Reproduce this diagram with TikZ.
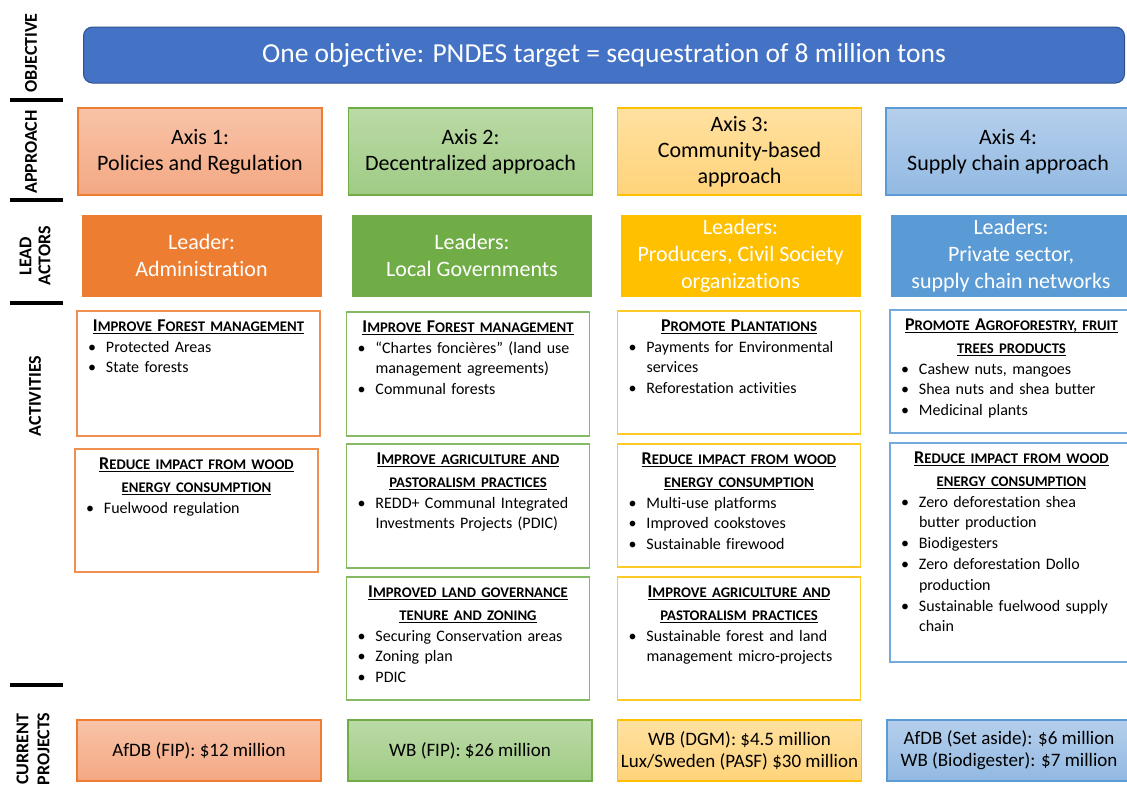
\documentclass[tikz,border=0pt]{standalone}
\usepackage{fontspec}
\setmainfont{Carlito}[Ligatures=NoCommon]
\usetikzlibrary{positioning}

\definecolor{orgdark}{HTML}{ED7D31}
\definecolor{orgtop}{HTML}{F8C3A8}
\definecolor{orgbot}{HTML}{F4A883}
\definecolor{grndark}{HTML}{70AD47}
\definecolor{grntop}{HTML}{BBDAA6}
\definecolor{grnbot}{HTML}{9FCB85}
\definecolor{yeldark}{HTML}{FFC000}
\definecolor{yeltop}{HTML}{FFE1A0}
\definecolor{yelbot}{HTML}{FFD37A}
\definecolor{bludark}{HTML}{5B9BD5}
\definecolor{blutop}{HTML}{B5CFEC}
\definecolor{blubot}{HTML}{92B9E2}
\definecolor{objfill}{HTML}{4472C4}
\definecolor{objline}{HTML}{2F528F}

\newsavebox{\ulnbox}
\newcommand{\uln}[1]{\leavevmode\sbox{\ulnbox}{#1}\rlap{\rule[-3pt]{\wd\ulnbox}{1.2pt}}\usebox{\ulnbox}}
\newcommand{\bigc}[1]{{\fontsize{18}{20}\selectfont #1}}
\newcommand{\head}[1]{{\centering\fontsize{14.7}{23}\selectfont\bfseries #1\par}}
\newcommand{\itm}[1]{\par\hangindent=18pt\hangafter=1\noindent\makebox[18pt][l]{\textbullet}#1\par}

\tikzset{
  lbl/.style={rotate=90, align=center, inner sep=0pt, font=\bfseries\fontsize{18}{19}\selectfont},
  sepline/.style={line width=4pt},
  objbox/.style={draw=objline, fill=objfill, line width=1pt, rounded corners=9pt,
    minimum width=1041pt, minimum height=56pt, text=white, font=\fontsize{27.5}{30}\selectfont},
  axisbox/.style={draw=#1dark, line width=1.1pt, top color=#1top, bottom color=#1bot,
    minimum width=244pt, minimum height=87pt, inner sep=0pt, align=center,
    font=\fontsize{22}{26}\selectfont},
  leadbox/.style={fill=#1dark, draw=white, line width=0.6pt, text=white,
    minimum width=241pt, minimum height=83pt, inner sep=0pt, align=center,
    font=\fontsize{22}{27}\selectfont},
  actbox/.style={draw=#1dark!85, line width=1.3pt, fill=white, minimum width=243pt},
  acttext/.style={text width=221pt, align=left, inner sep=0pt,
    font=\fontsize{16}{20.8}\selectfont},
  projbox/.style={draw=#1dark, line width=1.1pt, top color=#1top, bottom color=#1bot,
    minimum width=244pt, minimum height=61pt, inner sep=0pt, align=center,
    font=\fontsize{19}{22}\selectfont}
}

\begin{document}
\begin{tikzpicture}[x=1pt,y=-1pt]
\clip (0,0) rectangle (1127,788);
\fill[white] (0,0) rectangle (1127,788);

% row labels
\node[lbl] (lobj) at (31,53) {OBJECTIVE};
\node[lbl] (lapp) at (31,152) {APPROACH};
\node[lbl] (llead) at (35,256) {LEAD\\ACTORS};
\node[lbl] (lact) at (35,396) {ACTIVITIES};
\node[lbl, font=\bfseries\fontsize{18}{21}\selectfont] (lcur) at (33,749) {CURRENT\\PROJECTS};
\foreach \y in {100,200,303,685}
  \draw[sepline] (10,\y) -- (63,\y);

% objective
\node[objbox] (obj) at (604,55) {One objective: PNDES target = sequestration of 8 million tons};

% approach
\node[axisbox=org] (ax1) at (200,151.5) {Axis 1:\\Policies and Regulation};
\node[axisbox=grn] (ax2) at (470.5,151.5) {Axis 2:\\Decentralized approach};
\node[axisbox=yel] (ax3) at (739.5,151.5) {Axis 3:\\Community-based\\approach};
\node[axisbox=blu] (ax4) at (1008,151.5) {Axis 4:\\Supply chain approach};

% lead actors
\node[leadbox=org] (ld1) at (201.5,255.5) {Leader:\\Administration};
\node[leadbox=grn] (ld2) at (472,255.5) {Leaders:\\Local Governments};
\node[leadbox=yel] (ld3) at (740.5,255.5) {Leaders:\\Producers, Civil Society\\organizations};
\node[leadbox=blu] (ld4) at (1011,255.5) {Leaders:\\Private sector,\\supply chain networks};

% activities
\node[actbox=org, minimum height=125pt] (a11) at (198.5,373.5) {};
\node[actbox=org, minimum height=123pt] (a12) at (196.5,510.5) {};
\node[actbox=grn, minimum height=124pt] (a21) at (468,374) {};
\node[actbox=grn, minimum height=124pt] (a22) at (468,506) {};
\node[actbox=grn, minimum height=123pt] (a23) at (468,638.5) {};
\node[actbox=yel, minimum height=123pt] (a31) at (739,372.5) {};
\node[actbox=yel, minimum height=123pt] (a32) at (739,505.5) {};
\node[actbox=yel, minimum height=123pt] (a33) at (739,638.5) {};
\node[actbox=blu, minimum height=123pt] (a41) at (1011.5,371.5) {};
\node[actbox=blu, minimum height=219pt] (a42) at (1011.5,552.5) {};

\node[acttext, below=9pt of a11.north] (a11t) {%
  \head{\uln{\bigc{I}MPROVE \bigc{F}OREST MANAGEMENT}}
  \itm{Protected Areas}
  \itm{State forests}};
\node[acttext, below=9pt of a12.north] (a12t) {%
  \head{\uln{\bigc{R}EDUCE IMPACT FROM WOOD}\\\uln{ENERGY CONSUMPTION}}
  \itm{Fuelwood regulation}};
\node[acttext, below=9pt of a21.north] (a21t) {%
  \head{\uln{\bigc{I}MPROVE \bigc{F}OREST MANAGEMENT}}
  \itm{“Chartes foncières” (land use\newline management agreements)}
  \itm{Communal forests}};
\node[acttext, below=9pt of a22.north] (a22t) {%
  \head{\uln{\bigc{I}MPROVE AGRICULTURE AND}\\\uln{PASTORALISM PRACTICES}}
  \itm{REDD+ Communal Integrated\newline Investments Projects (PDIC)}};
\node[acttext, below=9pt of a23.north] (a23t) {%
  \head{\uln{\bigc{I}MPROVED LAND GOVERNANCE}\\\uln{TENURE AND ZONING}}
  \itm{Securing Conservation areas}
  \itm{Zoning plan}
  \itm{PDIC}};
\node[acttext, below=9pt of a31.north] (a31t) {%
  \head{\uln{\bigc{P}ROMOTE \bigc{P}LANTATIONS}}
  \itm{Payments for Environmental\newline services}
  \itm{Reforestation activities}};
\node[acttext, below=9pt of a32.north] (a32t) {%
  \head{\uln{\bigc{R}EDUCE IMPACT FROM WOOD}\\\uln{ENERGY CONSUMPTION}}
  \itm{Multi-use platforms}
  \itm{Improved cookstoves}
  \itm{Sustainable firewood}};
\node[acttext, below=9pt of a33.north] (a33t) {%
  \head{\uln{\bigc{I}MPROVE AGRICULTURE AND}\\\uln{PASTORALISM PRACTICES}}
  \itm{Sustainable forest and land\newline management micro-projects}};
\node[acttext, below=9pt of a41.north] (a41t) {%
  \head{\uln{\bigc{P}ROMOTE \bigc{A}GROFORESTRY, FRUIT}\\\uln{TREES PRODUCTS}}
  \itm{Cashew nuts, mangoes}
  \itm{Shea nuts and shea butter}
  \itm{Medicinal plants}};
\node[acttext, below=9pt of a42.north] (a42t) {%
  \head{\uln{\bigc{R}EDUCE IMPACT FROM WOOD}\\\uln{ENERGY CONSUMPTION}}
  \itm{Zero deforestation shea\newline butter production}
  \itm{Biodigesters}
  \itm{Zero deforestation Dollo\newline production}
  \itm{Sustainable fuelwood supply\newline chain}};

% current projects
\node[projbox=org] (p1) at (199,750.5) {AfDB (FIP): \$12 million};
\node[projbox=grn] (p2) at (470,750.5) {WB (FIP): \$26 million};
\node[projbox=yel] (p3) at (739.5,750.5) {WB (DGM): \$4.5 million\\Lux/Sweden (PASF) \$30 million};
\node[projbox=blu] (p4) at (1009,750.5) {AfDB (Set aside): \$6 million\\WB (Biodigester): \$7 million};
\end{tikzpicture}
\end{document}
